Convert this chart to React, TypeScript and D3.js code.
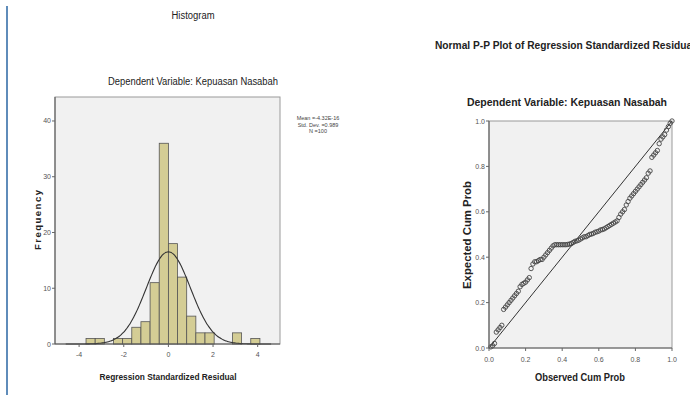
import React from "react";
import * as d3 from "d3";

// ---------- Histogram data ----------
const binStart = -3.69;
const binWidth = 0.41;
const binCounts = [1, 1, 0, 1, 1, 3, 4, 11, 36, 18, 12, 5, 2, 2, 0, 0, 2, 0, 1];
const histXTicks = [-4, -2, 0, 2, 4];
const histYTicks = [0, 10, 20, 30, 40];
const statMean = -4.32e-16;
const statSd = 0.989;
const statN = 100;
const statLines = ["Mean =-4.32E-16", "Std. Dev. =0.989", "N =100"];

// ---------- P-P plot data ----------
const ppObserved = [
  0.01, 0.02, 0.03, 0.04, 0.05, 0.06, 0.07, 0.08, 0.09, 0.1,
  0.11, 0.12, 0.13, 0.14, 0.15, 0.16, 0.17, 0.18, 0.19, 0.2,
  0.21, 0.22, 0.23, 0.24, 0.25, 0.26, 0.27, 0.28, 0.29, 0.3,
  0.31, 0.32, 0.33, 0.34, 0.35, 0.36, 0.37, 0.38, 0.39, 0.4,
  0.41, 0.42, 0.43, 0.44, 0.45, 0.46, 0.47, 0.48, 0.49, 0.5,
  0.51, 0.52, 0.53, 0.54, 0.55, 0.56, 0.57, 0.58, 0.59, 0.6,
  0.61, 0.62, 0.63, 0.64, 0.65, 0.66, 0.67, 0.68, 0.69, 0.7,
  0.71, 0.72, 0.73, 0.74, 0.75, 0.76, 0.77, 0.78, 0.79, 0.8,
  0.81, 0.82, 0.83, 0.84, 0.85, 0.86, 0.87, 0.88, 0.89, 0.9,
  0.91, 0.92, 0.93, 0.94, 0.95, 0.96, 0.97, 0.98, 0.99, 1.0,
];
const ppExpected = [
  0.005, 0.01, 0.02, 0.07, 0.08, 0.09, 0.1, 0.17, 0.18, 0.19,
  0.2, 0.21, 0.22, 0.23, 0.24, 0.25, 0.27, 0.28, 0.285, 0.29,
  0.3, 0.31, 0.35, 0.37, 0.38, 0.38, 0.385, 0.39, 0.39, 0.4,
  0.41, 0.42, 0.43, 0.44, 0.45, 0.455, 0.455, 0.455, 0.455, 0.455,
  0.455, 0.455, 0.456, 0.458, 0.46, 0.465, 0.47, 0.472, 0.475, 0.48,
  0.485, 0.49, 0.49, 0.495, 0.5, 0.502, 0.505, 0.51, 0.512, 0.515,
  0.52, 0.522, 0.525, 0.53, 0.535, 0.54, 0.545, 0.55, 0.555, 0.56,
  0.575, 0.59, 0.6, 0.61, 0.63, 0.645, 0.66, 0.67, 0.68, 0.69,
  0.7, 0.71, 0.72, 0.73, 0.74, 0.75, 0.77, 0.78, 0.84, 0.85,
  0.86, 0.87, 0.9, 0.92, 0.93, 0.94, 0.96, 0.975, 0.99, 1.0,
];
const ppTicks = [0, 0.2, 0.4, 0.6, 0.8, 1.0];

const FONT = "'Liberation Sans', Arial, sans-serif";
const TICK_COLOR = "#555";

export default function App() {
  // Histogram scales
  const hx = d3.scaleLinear().domain([-5.08, 5.0]).range([55, 280]);
  const hy = d3.scaleLinear().domain([0, 44.3]).range([344, 97]);

  const normalY = (x: number) =>
    (statN * binWidth) / (statSd * Math.sqrt(2 * Math.PI)) *
    Math.exp(-0.5 * ((x - statMean) / statSd) ** 2);
  const curveXs = d3.range(-4.6, 4.6001, 0.05);
  const curvePath = d3
    .line<number>()
    .x((d) => hx(d))
    .y((d) => hy(normalY(d)))
    .curve(d3.curveBasis)(curveXs);

  // PP scales
  const px = d3.scaleLinear().domain([0, 1]).range([489, 672]);
  const py = d3.scaleLinear().domain([0, 1]).range([348, 121]);

  return (
    <svg
      width={690}
      height={398}
      style={{ position: "absolute", left: 0, top: 0, background: "#fff" }}
      fontFamily={FONT}
    >
      <rect x={0} y={0} width={690} height={398} fill="#fff" />
      {/* left blue rule */}
      <line x1={7} x2={7} y1={6} y2={395} stroke="#5f8cba" strokeWidth={2} />

      {/* ===== Histogram ===== */}
      <text x={193} y={19} textAnchor="middle" fontSize={10} textLength={43} lengthAdjust="spacingAndGlyphs" fill="#222">
        Histogram
      </text>
      <text x={193} y={85} textAnchor="middle" fontSize={10} textLength={170} lengthAdjust="spacingAndGlyphs" fill="#222">
        Dependent Variable: Kepuasan Nasabah
      </text>
      <rect x={55} y={97} width={225} height={247} fill="#f1f1f1" stroke="#9a9a9a" strokeWidth={1} />
      {binCounts.map((c, i) => {
        if (c === 0) return null;
        const x0 = binStart + i * binWidth;
        const x1 = x0 + binWidth;
        return (
          <rect
            key={i}
            x={hx(x0)}
            y={hy(c)}
            width={hx(x1) - hx(x0)}
            height={hy(0) - hy(c)}
            fill="#d4cd95"
            stroke="#555"
            strokeWidth={0.8}
          />
        );
      })}
      <path d={curvePath || ""} fill="none" stroke="#333" strokeWidth={1.1} />
      {/* axes */}
      <line x1={55} x2={55} y1={97} y2={344} stroke="#666" strokeWidth={1.2} />
      <line x1={55} x2={280} y1={344} y2={344} stroke="#555" strokeWidth={1.2} />
      {histYTicks.map((t) => (
        <g key={"hy" + t}>
          <line x1={52} x2={55} y1={hy(t)} y2={hy(t)} stroke="#666" />
          <text x={51} y={hy(t) + 2.5} textAnchor="end" fontSize={7} fill={TICK_COLOR}>
            {t}
          </text>
        </g>
      ))}
      {histXTicks.map((t) => (
        <g key={"hx" + t}>
          <line x1={hx(t)} x2={hx(t)} y1={344} y2={347} stroke="#666" />
          <text x={hx(t)} y={357} textAnchor="middle" fontSize={7} fill={TICK_COLOR}>
            {t}
          </text>
        </g>
      ))}
      <text x={168} y={380} textAnchor="middle" fontSize={9.5} fontWeight="bold" textLength={137} lengthAdjust="spacingAndGlyphs" fill="#222">
        Regression Standardized Residual
      </text>
      <text
        transform="translate(41,220) rotate(-90)"
        textAnchor="middle"
        fontSize={9.5}
        fontWeight="bold"
        textLength={60}
        lengthAdjust="spacing"
        fill="#222"
      >
        Frequency
      </text>
      {statLines.map((s, i) => (
        <text key={s} x={318} y={120 + i * 6.5} textAnchor="middle" fontSize={5.5} fill="#444">
          {s}
        </text>
      ))}

      {/* ===== P-P Plot ===== */}
      <text x={435} y={49} fontSize={10} fontWeight="bold" textLength={260} lengthAdjust="spacingAndGlyphs" fill="#222">
        Normal P-P Plot of Regression Standardized Residual
      </text>
      <text x={567} y={106} textAnchor="middle" fontSize={10.5} fontWeight="bold" textLength={200} lengthAdjust="spacingAndGlyphs" fill="#222">
        Dependent Variable: Kepuasan Nasabah
      </text>
      <rect x={489} y={121} width={183} height={227} fill="#f1f1f1" stroke="#9a9a9a" strokeWidth={1} />
      <line x1={px(0)} y1={py(0)} x2={px(1)} y2={py(1)} stroke="#333" strokeWidth={1} />
      {ppObserved.map((o, i) => (
        <circle key={i} cx={px(o)} cy={py(ppExpected[i])} r={2.2} fill="none" stroke="#444" strokeWidth={0.9} />
      ))}
      <line x1={489} x2={489} y1={121} y2={348} stroke="#666" strokeWidth={1.2} />
      <line x1={489} x2={672} y1={348} y2={348} stroke="#666" strokeWidth={1.2} />
      {ppTicks.map((t) => (
        <g key={"py" + t}>
          <line x1={486} x2={489} y1={py(t)} y2={py(t)} stroke="#666" />
          <text x={485} y={py(t) + 2.5} textAnchor="end" fontSize={7} fill={TICK_COLOR}>
            {t.toFixed(1)}
          </text>
          <line x1={px(t)} x2={px(t)} y1={348} y2={351} stroke="#666" />
          <text x={px(t)} y={362} textAnchor="middle" fontSize={7} fill={TICK_COLOR}>
            {t.toFixed(1)}
          </text>
        </g>
      ))}
      <text x={580} y={381} textAnchor="middle" fontSize={10} fontWeight="bold" textLength={90} lengthAdjust="spacingAndGlyphs" fill="#222">
        Observed Cum Prob
      </text>
      <text
        transform="translate(471,235) rotate(-90)"
        textAnchor="middle"
        fontSize={10}
        fontWeight="bold"
        textLength={108}
        lengthAdjust="spacingAndGlyphs"
        fill="#222"
      >
        Expected Cum Prob
      </text>
    </svg>
  );
}
